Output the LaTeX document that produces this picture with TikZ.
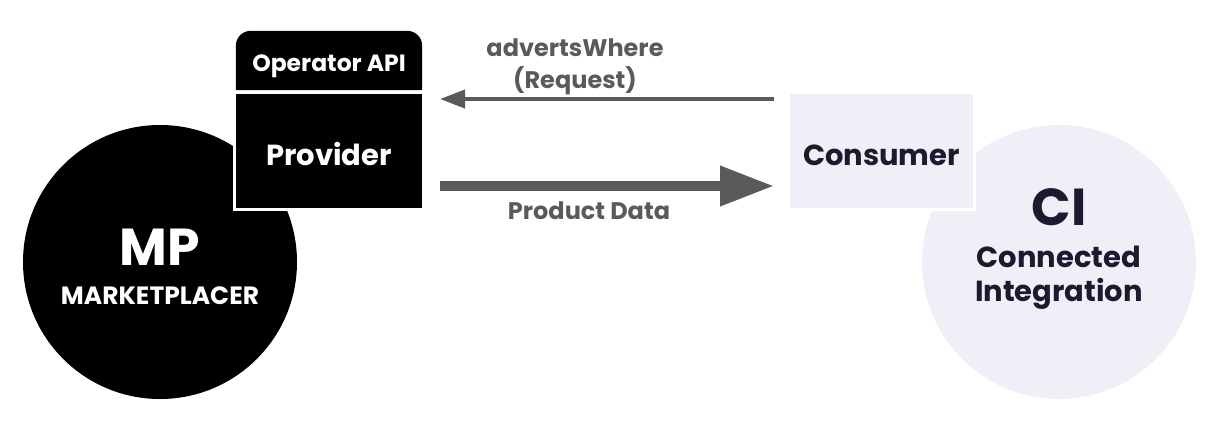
\documentclass[tikz,border=0pt]{standalone}
\usepackage{fontspec}
\setmainfont{Poppins}
\usetikzlibrary{arrows.meta}
\definecolor{arrowgray}{HTML}{5A5A5A}
\definecolor{lav}{HTML}{F0EFF7}
\definecolor{navy}{HTML}{1B1A2E}
\tikzset{
  bigcircle/.style={circle, inner sep=0pt, minimum size=274pt},
  boxnode/.style={rectangle, inner sep=0pt, line width=3pt, draw=white},
  lbl/.style={inner sep=0pt, font=\bfseries, align=center},
}
\begin{document}
\begin{tikzpicture}[x=1pt,y=-1pt]
\useasboundingbox (0,0) rectangle (1222,437);
% circles
\node[bigcircle, fill=black] (mp) at (160,262) {};
\node[bigcircle, fill=lav] (ci) at (1059,262) {};
% boxes
\node[boxnode, fill=black, minimum width=189pt, minimum height=117pt] (prov) at (329,151) {};
\node[boxnode, fill=lav, minimum width=186pt, minimum height=117pt] (cons) at (881.5,151) {};
\node[inner sep=0pt, minimum width=186pt, minimum height=59pt] (api) at (329,60.5) {};
\fill[black] (api.south west) {[rounded corners=15pt] -- (api.north west) -- (api.north east)} -- (api.south east) -- cycle;
% texts
\node[lbl, text=white, font=\bfseries\fontsize{23.5}{28}\selectfont] (apit) at (329,66) {Operator API};
\node[lbl, text=white, font=\bfseries\fontsize{29}{34}\selectfont] (provt) at (329,154) {Provider};
\node[lbl, text=navy, font=\bfseries\fontsize{29}{34}\selectfont] (const) at (881.5,155) {Consumer};
\node[lbl, text=white, font=\bfseries\fontsize{52}{60}\selectfont] (mpt) at (160,247) {MP};
\node[lbl, text=white, font=\bfseries\fontsize{25}{30}\selectfont] (mpsub) at (160,296) {MARKETPLACER};
\node[lbl, text=navy, font=\bfseries\fontsize{52}{60}\selectfont] (cit) at (1059,207) {CI};
\node[lbl, text=navy, font=\bfseries\fontsize{29}{34}\selectfont] (cisub) at (1059,278) {Connected\\Integration};
% arrows
\coordinate (reqs) at (cons.north west |- 0,99);
\coordinate (reqs) at ([xshift=-13pt]reqs);
\coordinate (reqe) at ([xshift=15pt]prov.east |- 0,99);
\coordinate (pds) at ([xshift=15pt]prov.east |- 0,186);
\coordinate (pde) at ([xshift=-13pt]cons.west |- 0,186);
\draw[arrowgray, line width=4pt, -{Triangle[length=25pt, width=18pt]}] (reqs) -- (reqe);
\draw[arrowgray, line width=10pt, -{Triangle[length=54pt, width=38pt]}] (pds) -- (pde);
\node[lbl, text=arrowgray, font=\bfseries\fontsize{24}{32}\selectfont] (reql) at (575,67) {advertsWhere\\(Request)};
\node[lbl, text=arrowgray, font=\bfseries\fontsize{24}{28}\selectfont] (pdl) at (589,211) {Product Data};
\end{tikzpicture}
\end{document}
